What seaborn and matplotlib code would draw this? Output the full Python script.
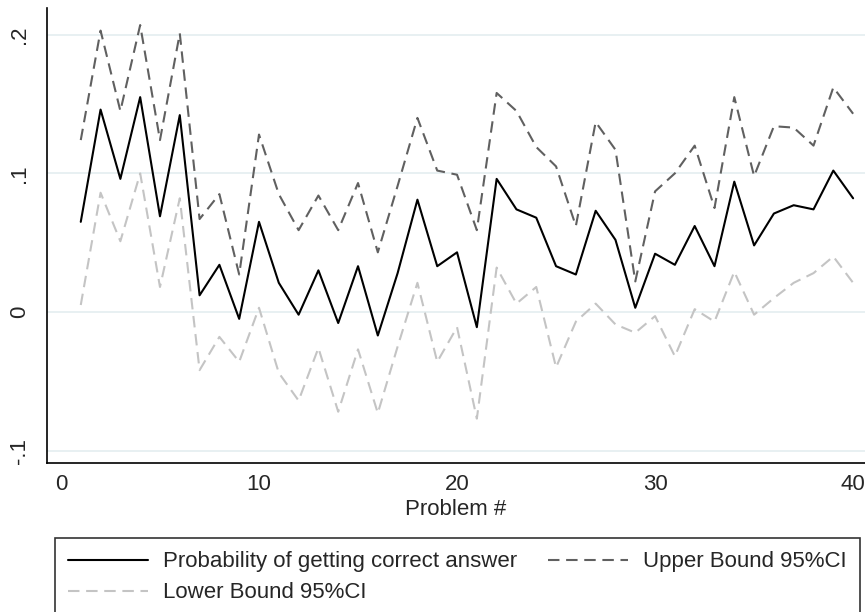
import numpy as np
import pandas as pd
import matplotlib
matplotlib.use('Agg')
import matplotlib.pyplot as plt
import seaborn as sns

# data
problem = list(range(1, 41))
prob = [0.065, 0.146, 0.096, 0.155, 0.069, 0.142, 0.012, 0.034, -0.005, 0.065,
        0.021, -0.002, 0.030, -0.008, 0.033, -0.017, 0.028, 0.081, 0.033, 0.043,
        -0.011, 0.096, 0.074, 0.068, 0.033, 0.027, 0.073, 0.052, 0.003, 0.042,
        0.034, 0.062, 0.033, 0.094, 0.048, 0.071, 0.077, 0.074, 0.102, 0.082]
upper = [0.124, 0.203, 0.145, 0.207, 0.124, 0.201, 0.067, 0.085, 0.027, 0.128,
         0.085, 0.059, 0.084, 0.059, 0.093, 0.043, 0.091, 0.140, 0.102, 0.099,
         0.059, 0.158, 0.145, 0.119, 0.105, 0.062, 0.137, 0.117, 0.022, 0.087,
         0.100, 0.120, 0.075, 0.155, 0.098, 0.134, 0.133, 0.120, 0.162, 0.143]
lower = [0.005, 0.086, 0.051, 0.100, 0.018, 0.082, -0.042, -0.018, -0.036, 0.003,
         -0.044, -0.064, -0.026, -0.072, -0.027, -0.073, -0.025, 0.021, -0.036, -0.011,
         -0.077, 0.032, 0.006, 0.018, -0.040, -0.007, 0.006, -0.009, -0.015, -0.003,
         -0.032, 0.002, -0.007, 0.029, -0.002, 0.010, 0.021, 0.028, 0.040, 0.021]

y_ticks = [-0.1, 0.0, 0.1, 0.2]
y_tick_labels = ['-.1', '0', '.1', '.2']
x_ticks = [0, 10, 20, 30, 40]

labels = ['Probability of getting correct answer', 'Upper Bound 95%CI', 'Lower Bound 95%CI']

df = pd.DataFrame({'problem': problem, 'prob': prob, 'upper': upper, 'lower': lower})

sns.set_style("white")
plt.rcParams['font.family'] = ['Liberation Sans', 'DejaVu Sans']

fig = plt.figure(figsize=(8.65, 6.12), dpi=100)
ax = fig.add_axes([46.7 / 865, (612 - 463) / 612, 1 - 46.7 / 865, (463 - 8) / 612])

# horizontal grid lines
for yv in y_ticks:
    ax.axhline(yv, color='#e6eff1', lw=1.3, zorder=0)

sns.lineplot(data=df, x='problem', y='prob', ax=ax, color='black', lw=1.5, label=labels[0])
sns.lineplot(data=df, x='problem', y='upper', ax=ax, color='#606060', lw=1.5,
             linestyle='--', label=labels[1])
sns.lineplot(data=df, x='problem', y='lower', ax=ax, color='#c4c4c4', lw=1.5,
             linestyle='--', label=labels[2])
lines = ax.get_lines()[-3:]
lines[1].set_dashes((5.5, 3.2))
lines[2].set_dashes((5.5, 3.2))

ax.set_xlim(-0.72, 40.6)
ax.set_ylim(-0.109, 0.2193)
ax.set_xticks(x_ticks)
ax.set_yticks(y_ticks)
ax.set_yticklabels(y_tick_labels, rotation=90, va='center')
ax.tick_params(axis='both', labelsize=16, length=7, width=1, color='black', direction='out')
ax.tick_params(axis='x', pad=1)
ax.tick_params(axis='y', pad=5)
ax.set_xlabel('Problem #', fontsize=16, labelpad=3)
ax.set_ylabel('')

for side in ['top', 'right']:
    ax.spines[side].set_visible(False)
for side in ['left', 'bottom']:
    ax.spines[side].set_color('black')
    ax.spines[side].set_linewidth(1.2)

handles, labs = ax.get_legend_handles_labels()
ax.get_legend().remove()
# legend fills column by column: put the lower bound under the first entry
order = [0, 2, 1]
leg = fig.legend([handles[i] for i in order], [labs[i] for i in order],
                 loc='upper left', bbox_to_anchor=(55 / 865, (612 - 538) / 612),
                 ncol=2, fontsize=16, frameon=True, fancybox=False, borderaxespad=0,
                 handlelength=3.6, handletextpad=0.68, columnspacing=1.35,
                 borderpad=0.6, labelspacing=0.45)
leg.get_frame().set_edgecolor('black')
leg.get_frame().set_linewidth(1.2)

plt.savefig('out.png', dpi=100)
